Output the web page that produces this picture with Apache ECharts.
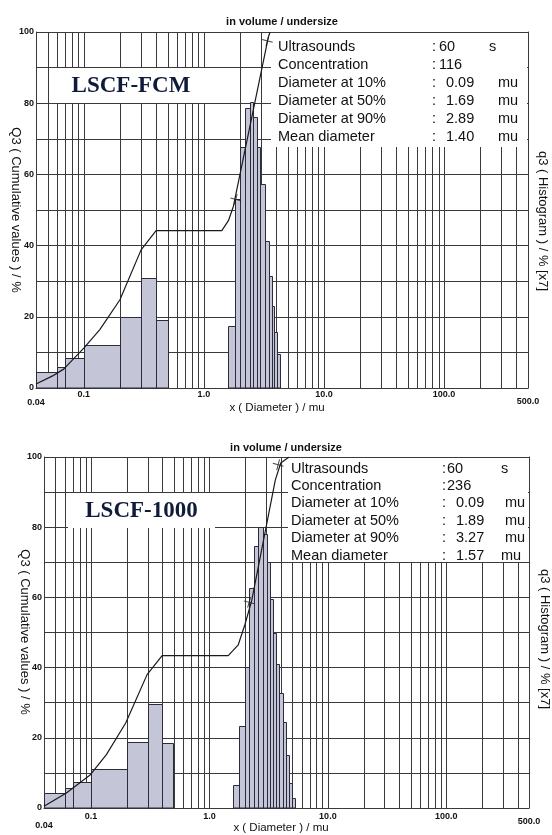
<!DOCTYPE html>
<html><head><meta charset="utf-8">
<script src="https://cdn.jsdelivr.net/npm/echarts@6/dist/echarts.min.js"></script>
<style>html,body{margin:0;padding:0;background:#fff}#c{width:552px;height:835px}</style>
</head><body><div id="c"></div>
<script>
// ---------- DATA ----------
// LSCF-FCM (top)
const fcmBinLo = [0.04, 0.06, 0.07, 0.1, 0.2, 0.3, 0.4, 1.60, 1.82, 2.00, 2.21, 2.40, 2.56, 2.79, 2.94, 3.21, 3.48, 3.68, 3.85, 4.05];
const fcmBinHi = [0.06, 0.07, 0.1, 0.2, 0.3, 0.4, 0.5, 1.82, 2.00, 2.21, 2.40, 2.56, 2.79, 2.94, 3.21, 3.48, 3.68, 3.85, 4.05, 4.32];
const fcmHist  = [4.5, 6, 8.5, 12, 20, 31, 19, 17.5, 53, 67.6, 78.6, 80.4, 76, 67.6, 57.3, 41.4, 31.5, 22.9, 15.6, 9.6];
const fcmCumX  = [0.04, 0.055, 0.068, 0.1, 0.136, 0.2, 0.3, 0.4, 1.41, 1.6, 1.76, 3.45, 3.56];
const fcmCumY  = [1.1, 3.4, 5.3, 11.2, 16.4, 24.8, 38.8, 44.2, 44.2, 47, 51, 98.7, 100];
const fcmMarkX = [1.84, 3.38];
const fcmMarkY = [53, 97.5];
const fcmInfoVals  = ['60', '116', '0.09', '1.69', '2.89', '1.40'];

// LSCF-1000 (bottom)
const k1000BinLo = [0.04, 0.06, 0.07, 0.1, 0.2, 0.3, 0.4, 1.58, 1.78, 1.99, 2.17, 2.37, 2.58, 2.81, 3.04, 3.24, 3.43, 3.64, 3.88, 4.14, 4.42, 4.66, 4.96];
const k1000BinHi = [0.06, 0.07, 0.1, 0.2, 0.3, 0.4, 0.49, 1.78, 1.99, 2.17, 2.37, 2.58, 2.81, 3.04, 3.24, 3.43, 3.64, 3.88, 4.14, 4.42, 4.66, 4.96, 5.29];
const k1000Hist  = [4.3, 5.7, 7.5, 11, 18.7, 29.5, 18.5, 6.6, 23.4, 40.3, 62.7, 74.7, 80, 78, 70, 59.6, 50, 41, 32.8, 24.6, 15, 7.2, 2.9];
const k1000CumX  = [0.04, 0.0618, 0.0987, 0.1346, 0.196, 0.297, 0.398, 1.44, 1.75, 1.99, 2.27, 3.6, 4.0, 4.7];
const k1000CumY  = [0.5, 4.3, 9.5, 15.2, 24.2, 38, 43.4, 43.4, 46.5, 52.2, 59, 93.5, 98.3, 100];
const k1000MarkX = [2.16, 3.8];
const k1000MarkY = [58.6, 97.8];
const k1000InfoVals = ['60', '236', '0.09', '1.89', '3.27', '1.57'];

// shared text / ticks
const infoLabels = ['Ultrasounds', 'Concentration', 'Diameter at 10%', 'Diameter at 50%', 'Diameter at 90%', 'Mean diameter'];
const infoUnits  = ['s', '', 'mu', 'mu', 'mu', 'mu'];
const xTickVals   = [0.04, 0.1, 1, 10, 100, 500];
const xTickLabels = ['0.04', '0.1', '1.0', '10.0', '100.0', '500.0'];
const gridDecades = [0.01, 0.1, 1, 10, 100];
const gridMults   = [1, 2, 3, 4, 5, 6, 7, 8, 9];

// ---------- CHART ----------
const FONT = '"Liberation Sans", Arial, sans-serif';
const LINE = '#3a3a3a';
const gridVals = [];
gridDecades.forEach(d => gridMults.forEach(m => { const v = +(d * m).toPrecision(3); if (v > 0.04 && v < 500) gridVals.push(v); }));

const chart = echarts.init(document.getElementById('c'), null, {renderer: 'canvas'});

function xAx(gi) {
  return {type: 'log', logBase: 10, gridIndex: gi, min: 0.04, max: 500,
    axisLine: {show: true, lineStyle: {color: LINE, width: 1}},
    axisTick: {show: false}, axisLabel: {show: false}, splitLine: {show: false}};
}
function yAxL(gi, margin) {
  return {type: 'value', gridIndex: gi, min: 0, max: 100, interval: 10, position: 'left',
    axisLine: {show: true, lineStyle: {color: LINE, width: 1}},
    axisTick: {show: false},
    axisLabel: {margin: margin, fontSize: 9, fontWeight: 'bold', color: '#111', fontFamily: FONT,
      formatter: v => (v % 20 === 0 ? String(v) : '')},
    splitLine: {show: true, lineStyle: {color: LINE, width: 1}}};
}
function yAxR(gi) {
  return {type: 'value', gridIndex: gi, min: 0, max: 100, position: 'right',
    axisLine: {show: true, lineStyle: {color: LINE, width: 1}},
    axisTick: {show: false}, axisLabel: {show: false}, splitLine: {show: false}};
}
function gridSeries(xi, yi) {
  return {type: 'custom', xAxisIndex: xi, yAxisIndex: yi, z: 1, silent: true,
    data: gridVals.map(v => [v]), encode: {x: 0},
    renderItem: (p, api) => {
      const a = api.coord([api.value(0), 0]);
      const b = api.coord([api.value(0), 100]);
      const x = Math.round(a[0]) + 0.5;
      return {type: 'line', shape: {x1: x, y1: a[1], x2: x, y2: b[1]}, style: {stroke: LINE, lineWidth: 1}};
    }};
}
function histSeries(xi, yi, lo, hi, h) {
  return {type: 'custom', xAxisIndex: xi, yAxisIndex: yi, z: 3, silent: true,
    data: lo.map((v, i) => [v, hi[i], h[i]]), encode: {x: [0, 1], y: 2},
    renderItem: (p, api) => {
      const p0 = api.coord([api.value(0), api.value(2)]);
      const p1 = api.coord([api.value(1), 0]);
      const x0 = Math.round(p0[0]) + 0.5, x1 = Math.round(p1[0]) + 0.5, y0 = Math.round(p0[1]) + 0.5;
      return {type: 'rect', shape: {x: x0, y: y0, width: x1 - x0, height: p1[1] - y0},
        style: {fill: '#c5c5d8', stroke: '#2b2b3b', lineWidth: 1}};
    }};
}
function cumSeries(xi, yi, xs, ys) {
  return {type: 'line', xAxisIndex: xi, yAxisIndex: yi, z: 4, silent: true, symbol: 'none', smooth: false,
    data: xs.map((v, i) => [v, ys[i]]), lineStyle: {color: '#1a1a1a', width: 1.2}};
}
function markSeries(xi, yi, xs, ys) {
  return {type: 'scatter', xAxisIndex: xi, yAxisIndex: yi, z: 5, silent: true,
    symbol: 'path://M0,5L10,5M5,0L5,10', symbolSize: 11, symbolRotate: -15,
    itemStyle: {color: 'rgba(0,0,0,0)', borderColor: '#1a1a1a', borderWidth: 1},
    data: xs.map((v, i) => [v, ys[i]])};
}

chart.setOption({
  animation: false,
  backgroundColor: '#ffffff',
  grid: [
    {left: 36, top: 32, width: 492, height: 356},
    {left: 44, top: 457, width: 485, height: 351}
  ],
  xAxis: [xAx(0), xAx(1)],
  yAxis: [yAxL(0, 2), yAxR(0), yAxL(1, 2), yAxR(1)],
  series: [
    gridSeries(0, 0), histSeries(0, 0, fcmBinLo, fcmBinHi, fcmHist), cumSeries(0, 0, fcmCumX, fcmCumY), markSeries(0, 0, fcmMarkX, fcmMarkY),
    gridSeries(1, 2), histSeries(1, 2, k1000BinLo, k1000BinHi, k1000Hist), cumSeries(1, 2, k1000CumX, k1000CumY), markSeries(1, 2, k1000MarkX, k1000MarkY)
  ]
});

// ---------- GRAPHIC TEXT ----------
const g = [];
function txt(x, y, text, font, opts) {
  opts = opts || {};
  g.push({type: 'text', x: x, y: y, z: 10, rotation: opts.rot || 0, silent: true,
    style: {text: text, font: font, fill: opts.fill || '#111', textAlign: opts.align || 'left', textVerticalAlign: 'middle'}});
}
function rect(x, y, w, h) {
  g.push({type: 'rect', z: 2, silent: true, shape: {x: x, y: y, width: w, height: h}, style: {fill: '#ffffff'}});
}
function panel(cfg) {
  rect(cfg.lbox[0], cfg.lbox[1], cfg.lbox[2], cfg.lbox[3]);
  rect(cfg.ibox[0], cfg.ibox[1], cfg.ibox[2], cfg.ibox[3]);
  txt(cfg.title[0], cfg.title[1], 'in volume / undersize', 'bold 11px ' + FONT, {align: 'center'});
  txt(cfg.lbox[0] + cfg.lbox[2] / 2, cfg.lbox[1] + cfg.lbox[3] / 2 + 1, cfg.name, 'bold 23px "Liberation Serif", "Times New Roman", serif', {align: 'center', fill: '#101a3a'});
  infoLabels.forEach((l, i) => {
    const y = cfg.row0 + i * cfg.rowStep;
    txt(cfg.labX, y, l, '14.5px ' + FONT);
    txt(cfg.colX, y, ':', '14.5px ' + FONT);
    txt(i < 2 ? cfg.valX1 : cfg.valX2, y, cfg.vals[i], '14.5px ' + FONT);
    if (infoUnits[i]) txt(i === 0 ? cfg.unitS : (i === 5 ? cfg.unitMean : cfg.unitMu), y, infoUnits[i], '14.5px ' + FONT);
  });
  txt(cfg.yName[0], cfg.yName[1], 'Q3 ( Cumulative values ) / %', '13px ' + FONT, {align: 'center', rot: -Math.PI / 2});
  txt(cfg.rName[0], cfg.rName[1], 'q3 ( Histogram ) / % [x7]', '13px ' + FONT, {align: 'center', rot: -Math.PI / 2});
  txt(cfg.xName[0], cfg.xName[1], 'x ( Diameter ) / mu', '11.5px ' + FONT, {align: 'center'});
  xTickVals.forEach((v, i) => {
    const p = chart.convertToPixel({gridIndex: cfg.gi}, [v, 0]);
    const edge = (i === 0) ? cfg.dyFirst : (i === xTickVals.length - 1 ? cfg.dyLast : cfg.dy);
    txt(p[0], p[1] + edge, xTickLabels[i], 'bold 9px ' + FONT, {align: 'center'});
  });
}
panel({gi: 0, name: 'LSCF-FCM', lbox: [57, 68, 148, 35], ibox: [271, 33, 256, 114], title: [282, 22],
  row0: 47, rowStep: 18, labX: 278, colX: 432, valX1: 439, valX2: 446, unitS: 489, unitMu: 498, unitMean: 498,
  vals: fcmInfoVals, yName: [16, 210], rName: [543, 221], xName: [277, 408], dy: 7, dyFirst: 15, dyLast: 14});
panel({gi: 1, name: 'LSCF-1000', lbox: [68, 493, 147, 35], ibox: [288, 458, 240, 104], title: [286, 448],
  row0: 468.5, rowStep: 17.4, labX: 291, colX: 442, valX1: 447, valX2: 456, unitS: 501, unitMu: 505, unitMean: 501,
  vals: k1000InfoVals, yName: [25, 632], rName: [545, 639], xName: [281, 828], dy: 8.5, dyFirst: 18, dyLast: 13.5});

chart.setOption({graphic: {elements: g}});
</script>
</body></html>
